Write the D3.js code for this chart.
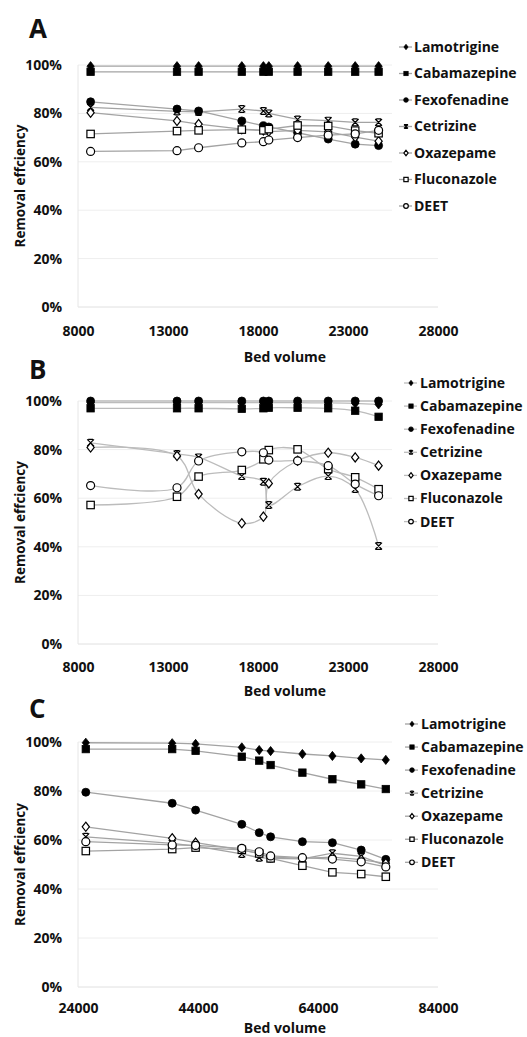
<!DOCTYPE html>
<html><head><meta charset="utf-8">
<script src="https://cdn.jsdelivr.net/npm/d3@7"></script>
<style>
body{margin:0;background:#fff}
text{font-family:"Open Sans",sans-serif;font-weight:700;fill:#111}
</style>
</head><body>
<svg id="chart" width="527" height="1037"></svg>
<script>
// ---------- DATA ----------
const compounds = ["Lamotrigine","Cabamazepine","Fexofenadine","Cetrizine","Oxazepame","Fluconazole","DEET"];
const markerTypes = ["diamondFilled","squareFilled","circleFilled","star","diamondOpen","squareOpen","circleOpen"];
const yTicks = [0,20,40,60,80,100];
const xTicksAB = [8000,13000,18000,23000,28000];
const xTicksC = [24000,44000,64000,84000];

// Panel A
const bedVolumeA = [8700,13500,14700,17100,18300,18600,20200,21900,23400,24700];
const lamotrigineA  = [99.5,99.5,99.5,99.5,99.5,99.5,99.5,99.5,99.5,99.5];
const cabamazepineA = [97.2,97.2,97.2,97.2,97.2,97.2,97.2,97.2,97.2,97.2];
const fexofenadineA = [84.8,81.8,81.0,76.9,74.9,74.4,72.0,69.4,67.3,66.7];
const cetrizineA    = [82.5,80.8,80.6,81.8,81.0,80.0,77.5,77.0,76.3,76.3];
const oxazepameA    = [80.3,76.9,75.6,73.5,73.0,72.5,73.0,72.4,70.2,68.5];
const fluconazoleA  = [71.5,72.7,73.0,73.3,73.0,73.5,75.0,74.8,72.9,71.8];
const deetA         = [64.3,64.6,65.8,67.8,68.3,69.0,70.0,71.0,71.5,73.0];

// Panel B
const bedVolumeB = [8700,13500,14700,17100,18300,18600,20200,21900,23400,24700];
const lamotrigineB  = [99.3,99.3,99.3,99.3,99.3,99.3,99.3,99.2,99.0,98.6];
const cabamazepineB = [97.0,97.0,97.0,96.8,97.0,97.2,97.2,97.0,96.0,93.5];
const fexofenadineB = [100,100,100,100,100,100,100,100,100,100];
const cetrizineB    = [82.8,78.2,76.8,69.1,66.8,57.2,64.7,69.1,63.8,40.3];
const oxazepameB    = [80.9,77.4,61.7,49.7,52.4,66.1,75.4,78.7,76.8,73.4];
const fluconazoleB  = [57.2,60.6,68.9,71.6,76.0,79.8,80.1,72.0,68.6,63.7];
const deetB         = [65.2,64.3,75.3,79.1,78.7,75.7,75.4,73.4,65.8,61.0];

// Panel C
const bedVolumeC = [25300,39700,43600,51300,54200,56100,61400,66400,71200,75300];
const lamotrigineC  = [99.7,99.5,99.2,97.8,96.7,96.3,95.1,94.3,93.3,92.7];
const cabamazepineC = [97.1,97.1,96.4,94.0,92.4,90.6,87.5,84.8,82.7,80.8];
const fexofenadineC = [79.5,75.0,72.2,66.4,63.0,61.3,59.3,58.9,55.9,52.1];
const cetrizineC    = [61.3,58.6,57.5,54.3,52.8,52.5,52.3,54.6,53.3,49.5];
const oxazepameC    = [65.4,60.7,58.9,56.0,54.5,53.0,52.5,53.0,52.0,50.5];
const fluconazoleC  = [55.5,56.3,56.9,56.0,54.5,52.5,49.5,46.8,46.1,45.0];
const deetC         = [59.3,58.0,57.8,56.6,55.2,53.5,52.8,52.2,51.1,49.0];

// ---------- LAYOUT ----------
const panels = [
  {letter:"A", bv:bedVolumeA, series:[lamotrigineA,cabamazepineA,fexofenadineA,cetrizineA,oxazepameA,fluconazoleA,deetA],
   xDomain:[8000,28000], xTicks:xTicksAB, top:65, bottom:307, tickY:331, titleY:357, letterY:38,
   legY0:47, legStep:26.5, legMX:406, legTX:414, curve:d3.curveLinear, lineColor:"#a3a3a3"},
  {letter:"B", bv:bedVolumeB, series:[lamotrigineB,cabamazepineB,fexofenadineB,cetrizineB,oxazepameB,fluconazoleB,deetB],
   xDomain:[8000,28000], xTicks:xTicksAB, top:401, bottom:644, tickY:667, titleY:691, letterY:379,
   legY0:383, legStep:23.1, legMX:411, legTX:420, curve:d3.curveCatmullRom.alpha(0.5), lineColor:"#bcbcbc"},
  {letter:"C", bv:bedVolumeC, series:[lamotrigineC,cabamazepineC,fexofenadineC,cetrizineC,oxazepameC,fluconazoleC,deetC],
   xDomain:[24000,84000], xTicks:xTicksC, top:742, bottom:987, tickY:1008, titleY:1028, letterY:718,
   legY0:724, legStep:23.05, legMX:412, legTX:421, curve:d3.curveLinear, lineColor:"#a3a3a3"}
];
const X0 = 78, X1 = 438;

const svg = d3.select("#chart");

function drawMarker(g, type, x, y, k) {
  const filled = type.endsWith("Filled");
  const fill = filled ? "#000" : "#fff";
  const sw = filled ? 0.8 : 1.2;
  if (type.startsWith("diamond")) {
    const h = 4.6*k, w = 3.6*k;
    g.append("path").attr("d",`M${x},${y-h}L${x+w},${y}L${x},${y+h}L${x-w},${y}Z`)
      .attr("fill",fill).attr("stroke","#000").attr("stroke-width",sw);
  } else if (type.startsWith("square")) {
    const s = 3.7*k;
    g.append("rect").attr("x",x-s).attr("y",y-s).attr("width",2*s).attr("height",2*s)
      .attr("fill",fill).attr("stroke","#000").attr("stroke-width",sw);
  } else if (type.startsWith("circle")) {
    g.append("circle").attr("cx",x).attr("cy",y).attr("r",4.0*k)
      .attr("fill",fill).attr("stroke","#000").attr("stroke-width",sw);
  } else if (type === "star") {
    const s = 3.4*k, b = 2.4*k;
    g.append("path").attr("d",`M${x-s},${y-s}L${x+s},${y+s}M${x+s},${y-s}L${x-s},${y+s}M${x-b},${y-s}H${x+b}M${x-b},${y+s}H${x+b}`)
      .attr("fill","none").attr("stroke","#000").attr("stroke-width",1.2);
  }
}

panels.forEach(p => {
  const x = d3.scaleLinear().domain(p.xDomain).range([X0, X1]);
  const y = d3.scaleLinear().domain([0,100]).range([p.bottom, p.top]);
  const g = svg.append("g");

  // gridlines
  g.selectAll(".grid").data(yTicks).join("line")
    .attr("x1",X0).attr("x2",X1).attr("y1",d=>y(d)).attr("y2",d=>y(d))
    .attr("stroke",d=>d===0?"#e0e0e0":"#eeeeee").attr("stroke-width",1);
  g.append("line").attr("x1",X0).attr("x2",X0).attr("y1",p.top).attr("y2",p.bottom)
    .attr("stroke","#e6e6e6");

  // y axis labels
  const ya = g.append("g").attr("transform",`translate(${X0},0)`)
    .call(d3.axisLeft(y).tickValues(yTicks).tickFormat(d=>d+"%").tickSize(0).tickPadding(16));
  ya.select(".domain").remove();
  ya.selectAll("text").attr("font-size",14).attr("font-family",null).attr("fill","#111");

  // x axis labels
  const xa = g.append("g").attr("transform",`translate(0,${p.bottom})`)
    .call(d3.axisBottom(x).tickValues(p.xTicks).tickFormat(d3.format("d")).tickSize(0).tickPadding(p.tickY-5-p.bottom));
  xa.select(".domain").remove();
  xa.selectAll("text").attr("font-size",14).attr("font-family",null).attr("fill","#111");

  // titles
  g.append("text").attr("x",285).attr("y",p.titleY).attr("dy","0.35em")
    .attr("text-anchor","middle").attr("font-size",14).text("Bed volume");
  g.append("text").attr("transform",`translate(20,${(p.top+p.bottom)/2}) rotate(-90)`)
    .attr("dy","0.35em").attr("text-anchor","middle").attr("font-size",13.5).text("Removal effciency");
  g.append("text").attr("x",29).attr("y",p.letterY).attr("font-size",26).text(p.letter);

  // lines
  const line = d3.line().x((d,i)=>x(p.bv[i])).y(d=>y(d)).curve(p.curve);
  p.series.forEach(s => {
    g.append("path").attr("d",line(s)).attr("fill","none")
      .attr("stroke",p.lineColor).attr("stroke-width",1.3);
  });
  // markers
  p.series.forEach((s,si) => {
    s.forEach((v,i) => drawMarker(g, markerTypes[si], x(p.bv[i]), y(v), 1));
  });

  // legend
  const lg = svg.append("g");
  lg.append("rect").attr("x",392).attr("y",p.legY0-13).attr("width",135)
    .attr("height",p.legStep*6+26).attr("fill","#fff");
  compounds.forEach((c,i) => {
    const ly = p.legY0 + i*p.legStep;
    lg.append("line").attr("x1",p.legMX-7).attr("x2",p.legMX+6).attr("y1",ly).attr("y2",ly)
      .attr("stroke",p.lineColor).attr("stroke-width",1.3);
    drawMarker(lg, markerTypes[i], p.legMX, ly, 0.58);
    lg.append("text").attr("x",p.legTX).attr("y",ly).attr("dy","0.35em")
      .attr("font-size",14).text(c);
  });
});
</script>
</body></html>
